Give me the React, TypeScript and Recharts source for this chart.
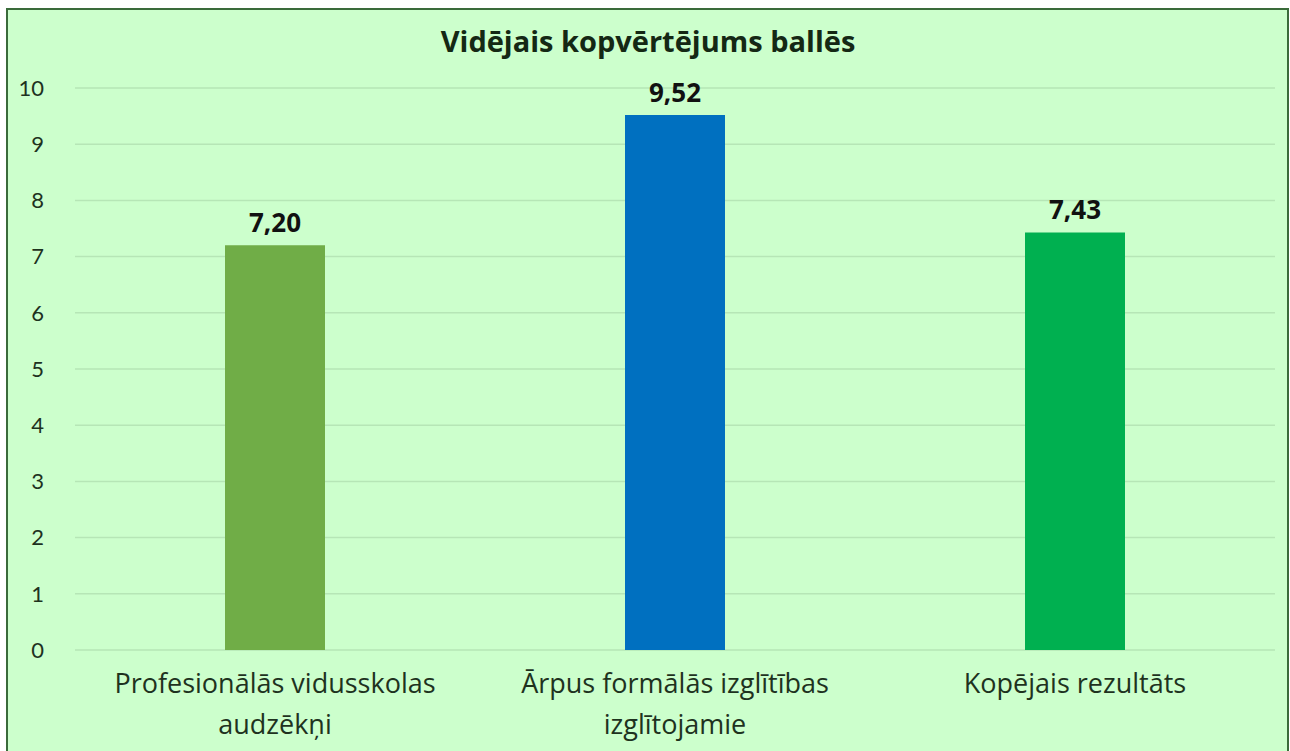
import React from "react";
import { BarChart, Bar, XAxis, YAxis, CartesianGrid, Cell, LabelList } from "recharts";

// Average overall score in points, per group
const categories = [
  "Profesionālās vidusskolas audzēkņi",
  "Ārpus formālās izglītības izglītojamie",
  "Kopējais rezultāts",
];
const categoryLines = [
  ["Profesionālās vidusskolas", "audzēkņi"],
  ["Ārpus formālās izglītības", "izglītojamie"],
  ["Kopējais rezultāts"],
];
const scores = [7.2, 9.52, 7.43];
const barColors = ["#70AD47", "#0070C0", "#00B050"];
const yTicks = [0, 1, 2, 3, 4, 5, 6, 7, 8, 9, 10];

const chartData = categories.map((name, i) => ({ name, score: scores[i] }));

const FONT = "'Open Sans', Lato, sans-serif";
const TEXT = "#1E321E";

const CategoryTick = (props: any) => {
  const { x, y, payload } = props;
  const lines = categoryLines[payload.index] || [payload.value];
  return (
    <text x={x} y={y} textAnchor="middle" fill={TEXT} fontSize={27} fontFamily={FONT}>
      {lines.map((line: string, i: number) => (
        <tspan key={i} x={x} dy={i === 0 ? 35 : 41}>
          {line}
        </tspan>
      ))}
    </text>
  );
};

const App: React.FC = () => {
  return (
    <div style={{ position: "absolute", left: 0, top: 0, width: 1290, height: 751, overflow: "hidden" }}>
      <div
        style={{
          position: "absolute",
          left: 6,
          top: 8,
          width: 1279,
          height: 800,
          border: "2px solid #3A6B3A",
          background: "#CCFFCC",
        }}
      />
      <div
        style={{
          position: "absolute",
          left: 0,
          top: 21,
          width: 1290,
          textAlign: "center",
          fontFamily: FONT,
          fontWeight: 700,
          fontSize: 29,
          color: "#142814",
          paddingLeft: 6,
          boxSizing: "border-box",
        }}
      >
        Vidējais kopvērtējums ballēs
      </div>
      <div style={{ position: "absolute", left: 0, top: 0 }}>
        <BarChart
          width={1290}
          height={751}
          data={chartData}
          margin={{ top: 88, right: 15, bottom: 21, left: 20 }}
          barSize={100}
        >
          <CartesianGrid horizontal vertical={false} stroke="#B6E6B6" strokeWidth={1.5} />
          <XAxis
            dataKey="name"
            axisLine={false}
            tickLine={false}
            interval={0}
            height={80}
            tick={<CategoryTick />}
          />
          <YAxis
            domain={[0, 10]}
            ticks={yTicks}
            width={55}
            axisLine={false}
            tickLine={false}
            tickSize={0}
            tickMargin={31}
            tick={{ fill: TEXT, fontSize: 22, fontFamily: "Lato, sans-serif" }}
          />
          <Bar dataKey="score" isAnimationActive={false}>
            {chartData.map((_, i) => (
              <Cell key={i} fill={barColors[i]} />
            ))}
            <LabelList
              dataKey="score"
              position="top"
              offset={13}
              formatter={(v: any) => Number(v).toFixed(2).replace(".", ",")}
              style={{ fill: "#111", fontSize: 26, fontWeight: 700, fontFamily: FONT }}
            />
          </Bar>
        </BarChart>
      </div>
    </div>
  );
};

export default App;
